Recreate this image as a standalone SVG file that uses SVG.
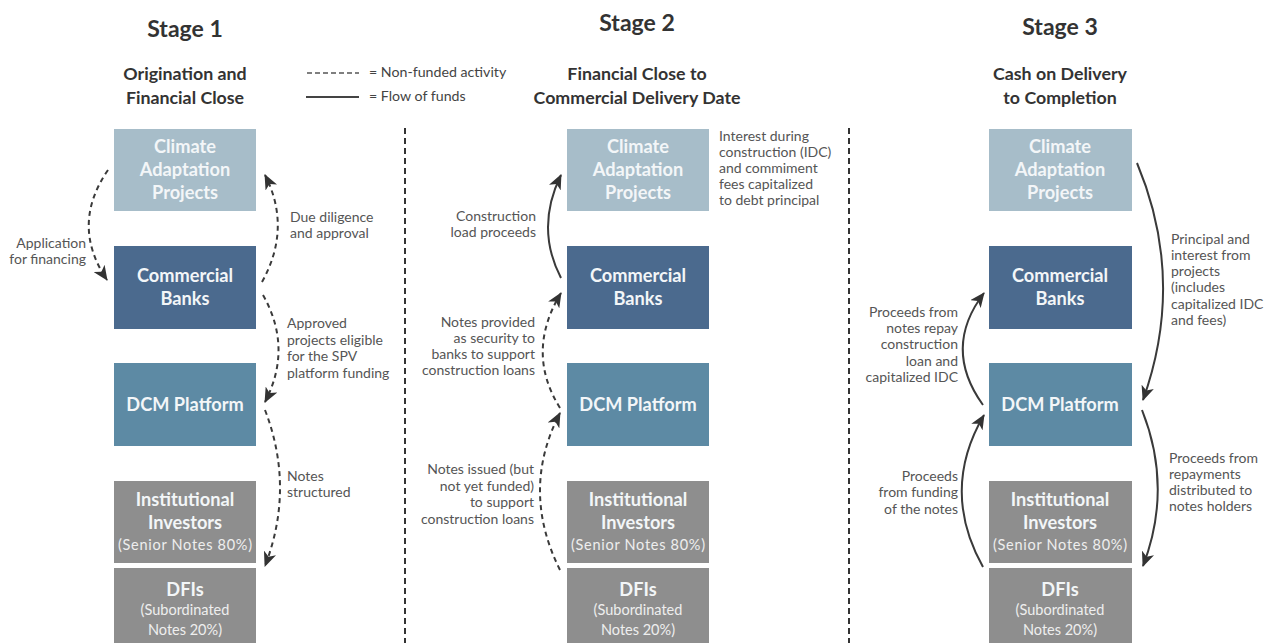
<svg xmlns="http://www.w3.org/2000/svg" width="1274" height="643" viewBox="0 0 1274 643">
  <style>
    .title { font-family: Lato, "Open Sans", sans-serif; font-weight: 700; font-size: 23px; fill: #333; text-anchor: middle; }
    .sub { font-family: Lato, "Open Sans", sans-serif; font-weight: 700; font-size: 17.8px; fill: #333; text-anchor: middle; }
    .lbl { font-family: Lato, "Open Sans", sans-serif; font-size: 14px; fill: #555; }
    .leg { font-family: Lato, "Open Sans", sans-serif; font-size: 14.2px; fill: #444; }
    .r { text-anchor: end; }
    .bt { font-family: Lato, "Open Sans", sans-serif; font-weight: 700; font-size: 18.2px; fill: #f3f6f8; text-anchor: middle; }
    .bs { font-family: Lato, "Open Sans", sans-serif; font-size: 14.5px; fill: #eeeeee; text-anchor: middle; }
    .proj { fill: #a7bdc9; }
    .bank { fill: #4b6a8e; }
    .dcm { fill: #5d8aa4; }
    .inv { fill: #8e8e8e; }
    .dash { fill: none; stroke: #3a3a3a; stroke-width: 2; stroke-dasharray: 5 4; }
    .solid { fill: none; stroke: #3a3a3a; stroke-width: 2; }
    .divider { stroke: #333; stroke-width: 2; stroke-dasharray: 6 4; }
  </style>
  <defs>
    <marker id="ah" markerUnits="userSpaceOnUse" markerWidth="15" markerHeight="13" viewBox="0 0 15 13" refX="14" refY="6.5" orient="auto">
      <path d="M0,0 L15,6.5 L0,13 L4,6.5 z" fill="#333"/>
    </marker>
  </defs>
  <rect width="1274" height="643" fill="#ffffff"/>

  <!-- headings -->
  <g id="headings">
    <text class="title" x="185" y="37">Stage 1</text>
    <text class="sub" x="185" y="80">Origination and</text>
    <text class="sub" x="185" y="104">Financial Close</text>
    <text class="title" x="637" y="31">Stage 2</text>
    <text class="sub" x="637" y="80">Financial Close to</text>
    <text class="sub" x="637" y="104">Commercial Delivery Date</text>
    <text class="title" x="1060" y="35">Stage 3</text>
    <text class="sub" x="1060" y="80">Cash on Delivery</text>
    <text class="sub" x="1060" y="104">to Completion</text>
  </g>

  <!-- legend -->
  <g id="legend">
    <line x1="307" y1="73" x2="359" y2="73" stroke="#555" stroke-width="1.5" stroke-dasharray="5 3"/>
    <text class="leg" x="369" y="77">= Non-funded activity</text>
    <line x1="306" y1="97" x2="359" y2="97" stroke="#444" stroke-width="1.8"/>
    <text class="leg" x="369" y="101">= Flow of funds</text>
  </g>

  <!-- stage dividers -->
  <g id="dividers">
    <line class="divider" x1="405" y1="128" x2="405" y2="643"/>
    <line class="divider" x1="849" y1="128" x2="849" y2="643"/>
  </g>

  <!-- Stage 1 nodes -->
  <g id="s1-projects"><rect class="proj" x="114" y="129" width="142" height="82"/>
    <text class="bt" x="185" y="153">Climate</text><text class="bt" x="185" y="176">Adaptation</text><text class="bt" x="185" y="199">Projects</text></g>
  <g id="s1-banks"><rect class="bank" x="114" y="246" width="142" height="83"/>
    <text class="bt" x="185" y="282">Commercial</text><text class="bt" x="185" y="305">Banks</text></g>
  <g id="s1-dcm"><rect class="dcm" x="114" y="363" width="142" height="83"/>
    <text class="bt" x="185" y="411">DCM Platform</text></g>
  <g id="s1-investors"><rect class="inv" x="114" y="481" width="142" height="82"/>
    <text class="bt" x="185" y="506">Institutional</text><text class="bt" x="185" y="529">Investors</text><text class="bs" x="185" y="550" textLength="134" lengthAdjust="spacing">(Senior Notes 80%)</text></g>
  <g id="s1-dfis"><rect class="inv" x="114" y="568" width="142" height="80"/>
    <text class="bt" x="185" y="596">DFIs</text><text class="bs" x="185" y="615">(Subordinated</text><text class="bs" x="185" y="635">Notes 20%)</text></g>

  <!-- Stage 2 nodes -->
  <g id="s2-projects"><rect class="proj" x="567" y="129" width="142" height="82"/>
    <text class="bt" x="638" y="153">Climate</text><text class="bt" x="638" y="176">Adaptation</text><text class="bt" x="638" y="199">Projects</text></g>
  <g id="s2-banks"><rect class="bank" x="567" y="246" width="142" height="83"/>
    <text class="bt" x="638" y="282">Commercial</text><text class="bt" x="638" y="305">Banks</text></g>
  <g id="s2-dcm"><rect class="dcm" x="567" y="363" width="142" height="83"/>
    <text class="bt" x="638" y="411">DCM Platform</text></g>
  <g id="s2-investors"><rect class="inv" x="567" y="481" width="142" height="82"/>
    <text class="bt" x="638" y="506">Institutional</text><text class="bt" x="638" y="529">Investors</text><text class="bs" x="638" y="550" textLength="134" lengthAdjust="spacing">(Senior Notes 80%)</text></g>
  <g id="s2-dfis"><rect class="inv" x="567" y="568" width="142" height="80"/>
    <text class="bt" x="638" y="596">DFIs</text><text class="bs" x="638" y="615">(Subordinated</text><text class="bs" x="638" y="635">Notes 20%)</text></g>

  <!-- Stage 3 nodes -->
  <g id="s3-projects"><rect class="proj" x="989" y="129" width="143" height="82"/>
    <text class="bt" x="1060" y="153">Climate</text><text class="bt" x="1060" y="176">Adaptation</text><text class="bt" x="1060" y="199">Projects</text></g>
  <g id="s3-banks"><rect class="bank" x="989" y="246" width="143" height="83"/>
    <text class="bt" x="1060" y="282">Commercial</text><text class="bt" x="1060" y="305">Banks</text></g>
  <g id="s3-dcm"><rect class="dcm" x="989" y="363" width="143" height="83"/>
    <text class="bt" x="1060" y="411">DCM Platform</text></g>
  <g id="s3-investors"><rect class="inv" x="989" y="481" width="143" height="82"/>
    <text class="bt" x="1060" y="506">Institutional</text><text class="bt" x="1060" y="529">Investors</text><text class="bs" x="1060" y="550" textLength="134" lengthAdjust="spacing">(Senior Notes 80%)</text></g>
  <g id="s3-dfis"><rect class="inv" x="989" y="568" width="143" height="80"/>
    <text class="bt" x="1060" y="596">DFIs</text><text class="bs" x="1060" y="615">(Subordinated</text><text class="bs" x="1060" y="635">Notes 20%)</text></g>

  <!-- connectors -->
  <g id="connectors">
    <path class="dash" d="M108,170 Q70,225 107,280" marker-end="url(#ah)"/>
    <path class="dash" d="M262,282 Q292,228 265,175" marker-end="url(#ah)"/>
    <path class="dash" d="M263,295 Q293,348 265,402" marker-end="url(#ah)"/>
    <path class="dash" d="M265,410 Q295,488 265,566" marker-end="url(#ah)"/>

    <path class="solid" d="M561,278 Q535,228 561,175" marker-end="url(#ah)"/>
    <path class="dash" d="M560,408 Q525,352 561,293" marker-end="url(#ah)"/>
    <path class="dash" d="M560,570 Q520,490 560,413" marker-end="url(#ah)"/>

    <path class="solid" d="M1137,163 Q1186,280 1143,400" marker-end="url(#ah)"/>
    <path class="solid" d="M983,405 Q942,348 984,293" marker-end="url(#ah)"/>
    <path class="solid" d="M983,567 Q940,490 984,415" marker-end="url(#ah)"/>
    <path class="solid" d="M1142,410 Q1173,488 1143,566" marker-end="url(#ah)"/>
  </g>

  <!-- connector labels -->
  <g id="labels">
    <text class="lbl r" x="86" y="248">Application</text>
    <text class="lbl r" x="86" y="264">for financing</text>
    <text class="lbl" x="290" y="222">Due diligence</text>
    <text class="lbl" x="290" y="238">and approval</text>
    <text class="lbl" x="287" y="328">Approved</text>
    <text class="lbl" x="287" y="345">projects eligible</text>
    <text class="lbl" x="287" y="361">for the SPV</text>
    <text class="lbl" x="287" y="378">platform funding</text>
    <text class="lbl" x="287" y="481">Notes</text>
    <text class="lbl" x="287" y="497">structured</text>

    <text class="lbl r" x="536" y="221">Construction</text>
    <text class="lbl r" x="536" y="237">load proceeds</text>
    <text class="lbl r" x="535" y="327">Notes provided</text>
    <text class="lbl r" x="535" y="343">as security to</text>
    <text class="lbl r" x="535" y="359">banks to support</text>
    <text class="lbl r" x="535" y="375">construction loans</text>
    <text class="lbl r" x="534" y="474">Notes issued (but</text>
    <text class="lbl r" x="534" y="491">not yet funded)</text>
    <text class="lbl r" x="534" y="507">to support</text>
    <text class="lbl r" x="534" y="524">construction loans</text>
    <text class="lbl" x="719" y="141">Interest during</text>
    <text class="lbl" x="719" y="157">construction (IDC)</text>
    <text class="lbl" x="719" y="173">and commiment</text>
    <text class="lbl" x="719" y="189">fees capitalized</text>
    <text class="lbl" x="719" y="205">to debt principal</text>

    <text class="lbl" x="1171" y="244">Principal and</text>
    <text class="lbl" x="1171" y="260">interest from</text>
    <text class="lbl" x="1171" y="276">projects</text>
    <text class="lbl" x="1171" y="292">(includes</text>
    <text class="lbl" x="1171" y="309">capitalized IDC</text>
    <text class="lbl" x="1171" y="325">and fees)</text>
    <text class="lbl r" x="958" y="317">Proceeds from</text>
    <text class="lbl r" x="958" y="333">notes repay</text>
    <text class="lbl r" x="958" y="349">construction</text>
    <text class="lbl r" x="958" y="366">loan and</text>
    <text class="lbl r" x="958" y="382">capitalized IDC</text>
    <text class="lbl r" x="958" y="481">Proceeds</text>
    <text class="lbl r" x="958" y="497">from funding</text>
    <text class="lbl r" x="958" y="514">of the notes</text>
    <text class="lbl" x="1169" y="463">Proceeds from</text>
    <text class="lbl" x="1169" y="479">repayments</text>
    <text class="lbl" x="1169" y="495">distributed to</text>
    <text class="lbl" x="1169" y="511">notes holders</text>
  </g>
</svg>
